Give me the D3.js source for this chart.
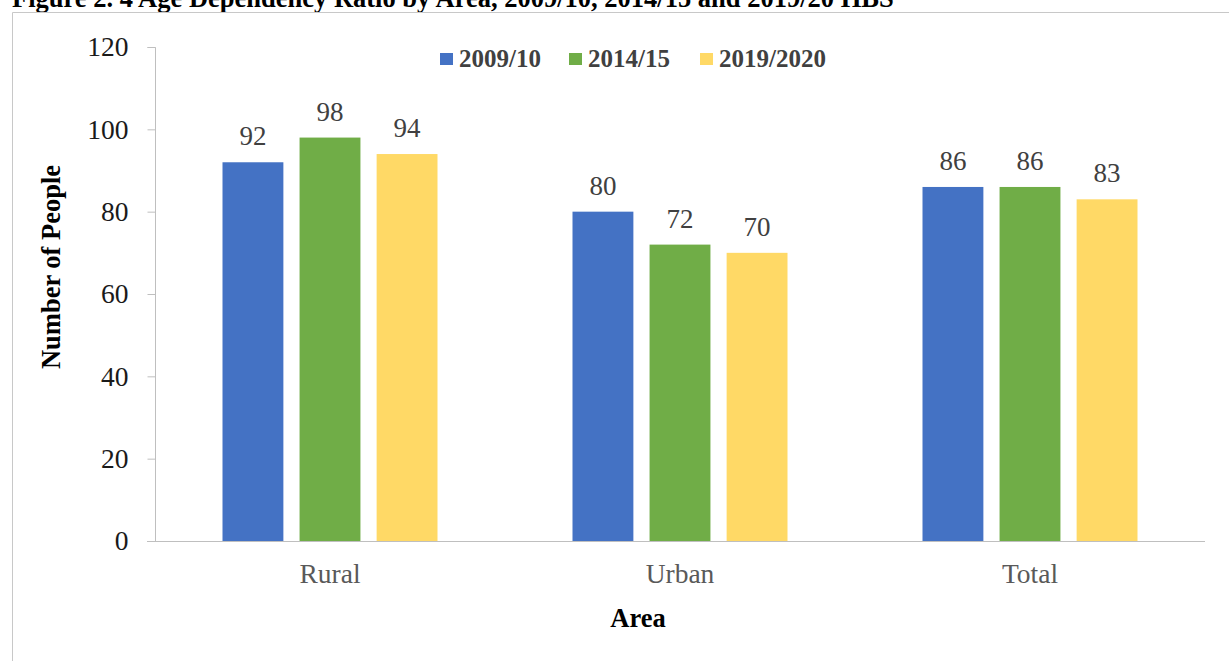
<!DOCTYPE html>
<html>
<head>
<meta charset="utf-8">
<script src="https://cdn.jsdelivr.net/npm/d3@7/dist/d3.min.js"></script>
<style>
  html, body { margin: 0; padding: 0; background: #fff; }
  svg { display: block; font-family: "Liberation Serif", "Times New Roman", serif; }
  svg text { font-family: "Liberation Serif", "Times New Roman", serif; }
</style>
</head>
<body>
<svg id="chart" width="1229" height="661"></svg>
<script>
// Age dependency ratio by area across three survey rounds
const areas = ["Rural", "Urban", "Total"];
const seriesNames = ["2009/10", "2014/15", "2019/2020"];
const values2009 = [92, 80, 86];
const values2014 = [98, 72, 86];
const values2019 = [94, 70, 83];
const yTicks = [0, 20, 40, 60, 80, 100, 120];
const colors = ["#4472C4", "#70AD47", "#FFD966"];

const seriesValues = [values2009, values2014, values2019];
const rows = areas.map((a, i) => ({
  area: a,
  vals: seriesNames.map((s, j) => ({ key: s, value: seriesValues[j][i], color: colors[j] }))
}));

const svg = d3.select("#chart");
const W = 1229, H = 661;

// Outer frame and the partly visible figure caption
svg.append("text")
  .attr("x", 12).attr("y", 7)
  .attr("font-weight", "bold").attr("font-size", 26.5).attr("fill", "#000")
  .text("Figure 2. 4 Age Dependency Ratio by Area, 2009/10, 2014/15 and 2019/20 HBS");
svg.append("path")
  .attr("d", `M12.5,${H} V12.5 H${W}`)
  .attr("fill", "none").attr("stroke", "#c8c8c8").attr("stroke-width", 1);

const groupWidth = 215;
const x0 = d3.scaleBand().domain(areas).range([155, 1205]).paddingInner(0).paddingOuter(0);
const x1 = d3.scaleBand().domain(seriesNames).range([0, groupWidth]).paddingInner(0.21).paddingOuter(0);
const y = d3.scaleLinear().domain([0, 120]).range([541, 47]);
const groupOffset = (x0.bandwidth() - groupWidth) / 2;

// Y axis
const yAxis = svg.append("g").attr("transform", "translate(155.5,0)")
  .call(d3.axisLeft(y).tickValues(yTicks).tickSize(8).tickPadding(19));
yAxis.attr("font-family", null).attr("font-size", null);
yAxis.select(".domain").attr("stroke", "#bfbfbf").attr("d", "M-8,47.5H0V541.5");
yAxis.selectAll(".tick line").attr("stroke", "#bfbfbf");
yAxis.selectAll(".tick text")
  .attr("font-size", 27.5).attr("fill", "#1a1a1a");

// X axis
const xAxis = svg.append("g").attr("transform", "translate(0,541.5)")
  .call(d3.axisBottom(x0).tickSize(0).tickPadding(0));
xAxis.attr("font-family", null).attr("font-size", null);
xAxis.select(".domain").attr("stroke", "#bfbfbf").attr("d", "M147,0H1205");
xAxis.selectAll(".tick text")
  .attr("dy", null).attr("y", 41.5)
  .attr("font-size", 27.5).attr("fill", "#595959");

// Bars
const groups = svg.append("g").selectAll("g").data(rows).join("g")
  .attr("transform", d => `translate(${x0(d.area) + groupOffset},0)`);
groups.selectAll("rect").data(d => d.vals).join("rect")
  .attr("x", d => x1(d.key))
  .attr("y", d => y(d.value))
  .attr("width", x1.bandwidth())
  .attr("height", d => y(0) - y(d.value))
  .attr("fill", d => d.color);

// Value labels
groups.selectAll("text.val").data(d => d.vals).join("text")
  .attr("class", "val")
  .attr("x", d => x1(d.key) + x1.bandwidth() / 2)
  .attr("y", d => y(d.value) - 17)
  .attr("text-anchor", "middle")
  .attr("font-size", 27).attr("fill", "#404040")
  .text(d => d.value);

// Legend
const legendX = [440, 569, 700];
const legend = svg.append("g").selectAll("g").data(seriesNames).join("g")
  .attr("transform", (d, i) => `translate(${legendX[i]},53)`);
legend.append("rect").attr("width", 13).attr("height", 12)
  .attr("fill", (d, i) => colors[i]);
legend.append("text").attr("x", 19).attr("y", 14)
  .attr("font-size", 25).attr("font-weight", "bold").attr("fill", "#404040")
  .text(d => d);

// Axis titles
svg.append("text")
  .attr("transform", "translate(60,267) rotate(-90)")
  .attr("text-anchor", "middle")
  .attr("font-size", 26.5).attr("font-weight", "bold").attr("fill", "#000")
  .text("Number of People");
svg.append("text")
  .attr("x", 638).attr("y", 627)
  .attr("text-anchor", "middle")
  .attr("font-size", 26.5).attr("font-weight", "bold").attr("fill", "#000")
  .text("Area");
</script>
</body>
</html>
